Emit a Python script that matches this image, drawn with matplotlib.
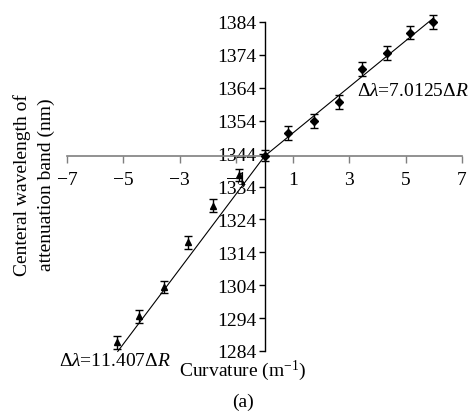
import matplotlib
matplotlib.use("Agg")
import matplotlib.pyplot as plt
import numpy as np

plt.rcParams['font.family'] = ['Liberation Serif', 'DejaVu Serif']
plt.rcParams['mathtext.fontset'] = 'custom'
plt.rcParams['mathtext.rm'] = 'Liberation Serif'
plt.rcParams['mathtext.it'] = 'Liberation Serif:italic'
plt.rcParams['mathtext.cal'] = 'Liberation Serif:italic'

# Data
pos_x = [0.0, 0.85, 1.75, 2.65, 3.47, 4.35, 5.17, 5.97]
pos_y = [1343.3, 1350.3, 1353.9, 1359.7, 1369.7, 1374.6, 1380.7, 1384.0]
pos_err = [1.7, 2.2, 2.0, 2.0, 2.0, 2.0, 2.0, 2.0]

neg_x = [-0.92, -1.84, -2.72, -3.57, -4.45, -5.23]
neg_y = [1337.5, 1328.1, 1317.1, 1303.5, 1294.6, 1286.7]
neg_err = [1.8, 2.0, 2.0, 1.8, 2.0, 2.0]

slope_pos, slope_neg, intercept = 7.0125, 11.407, 1343.2
pos_range = [0.0, 6.0]
neg_range = [-5.2, 0.0]

x_ticks = [-7, -5, -3, -1, 1, 3, 5, 7]
y_ticks = [1284, 1294, 1304, 1314, 1324, 1334, 1344, 1354, 1364, 1374, 1384]
x_cross = 1343.3

fig = plt.figure(figsize=(4.74, 4.14), dpi=100)
ax = fig.add_axes([67/474, 62/414, 395/474, 329/414])
ax.set_xlim(-7, 7)
ax.set_ylim(1284, 1384)

# fit lines
xp = np.array(pos_range)
ax.plot(xp, intercept + slope_pos * xp, color='black', lw=0.8, zorder=2, clip_on=False)
xn = np.array(neg_range)
ax.plot(xn, intercept + slope_neg * xn, color='black', lw=0.8, zorder=2, clip_on=False)

e1 = ax.errorbar(pos_x, pos_y, yerr=pos_err, fmt='D', ms=3.8, color='black',
                 ecolor='black', elinewidth=1.0, capsize=3, capthick=1.0, zorder=3)
e2 = ax.errorbar(neg_x, neg_y, yerr=neg_err, fmt='^', ms=4.3, color='black',
                 ecolor='black', elinewidth=1.0, capsize=3, capthick=1.0, zorder=3)
for eb in (e1, e2):
    for child in eb.get_children():
        child.set_clip_on(False)

# spines
for s in ['top', 'right']:
    ax.spines[s].set_visible(False)
ax.spines['left'].set_position(('data', 0))
ax.spines['bottom'].set_position(('data', x_cross))
ax.spines['bottom'].set_color('#7f7f7f')
ax.spines['left'].set_linewidth(1.0)
ax.spines['bottom'].set_linewidth(1.2)

ax.set_xticks(x_ticks)
ax.set_xticklabels([str(t).replace('-', '\u2212') for t in x_ticks])
ax.set_yticks(y_ticks)
ax.set_yticklabels([str(t) for t in y_ticks])
ax.tick_params(axis='x', direction='out', length=5, width=1, color='#7f7f7f',
               labelsize=14, pad=6)
ax.tick_params(axis='y', direction='out', length=4, width=1, color='black',
               labelsize=14, pad=2)
for lab in ax.get_xticklabels():
    lab.set_zorder(5)

fig.text(34/474, 1 - 185/414, 'Centeral wavelength of\nattenuation band (nm)',
         rotation=90, ha='center', va='center', fontsize=14, linespacing=1.45)
fig.text(243/474, 1 - 371/414, 'Curvature (m$^{-1}$)', ha='center', va='center',
         fontsize=14)
fig.text(243/474, 1 - 402/414, '(a)', ha='center', va='center', fontsize=14)

fig.text(357/474, 1 - 91/414, r'$\Delta\mathit{\lambda}$=7.0125$\Delta \mathit{R}$',
         ha='left', va='center', fontsize=14)
fig.text(59/474, 1 - 362/414, r'$\Delta\mathit{\lambda}$=11.407$\Delta \mathit{R}$',
         ha='left', va='center', fontsize=14)

fig.savefig('out.png', dpi=100)
